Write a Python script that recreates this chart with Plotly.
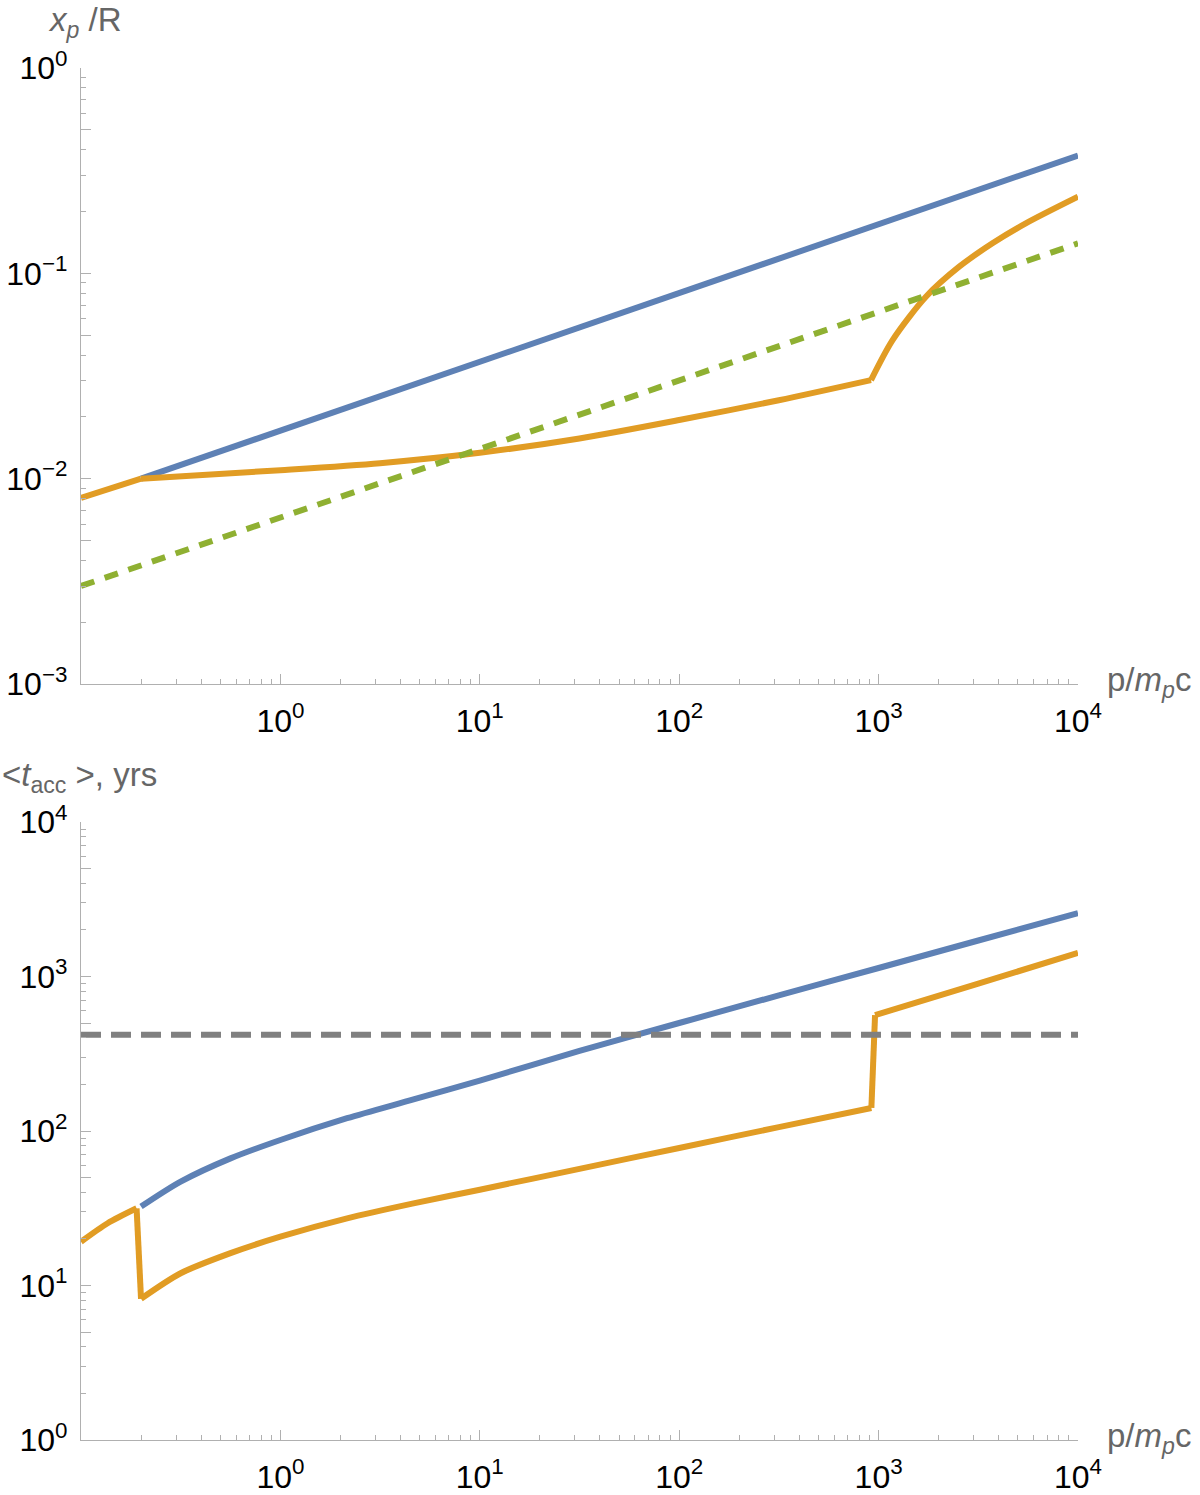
import plotly.graph_objects as go

# ---------------- data ----------------
# top panel: x_p / R versus p / m_p c
p_blue_top = [0.2, 10000]
xp_blue = [0.0100, 0.375]

p_orange_top = [0.1, 0.2, 1, 3.16, 10, 31.6, 100, 316, 916, 1175, 1727, 2536, 3724, 5470, 10000]
xp_orange = [0.00805, 0.0100, 0.0110, 0.0119, 0.01337, 0.0157, 0.0193, 0.0241, 0.0302,
             0.0473, 0.0769, 0.1077, 0.140, 0.175, 0.236]

p_green_top = [0.1, 10000]
xp_green = [0.0030, 0.140]

# bottom panel: <t_acc> (yrs) versus p / m_p c
p_blue_bot = [0.2, 0.316, 0.562, 1, 2.16, 4.65, 10, 31.6, 100, 316, 1000, 3162, 10000]
t_blue = [32.4, 47.0, 66.5, 87.5, 121, 160, 212, 330, 500, 755, 1135, 1710, 2570]

p_orange_bot = [0.1, 0.136, 0.19, 0.2, 0.316, 0.562, 1, 2.16, 4.65, 10, 31.6, 100, 316,
                920, 960, 3162, 10000]
t_orange = [19.2, 25.3, 31.6, 8.2, 12.0, 16.2, 20.7, 27.2, 34.0, 41.7, 56.9, 77.6, 106,
            141, 563, 900, 1420]

p_gray_bot = [0.1, 10000]
t_gray = [420, 420]

x_tick_vals = [1, 10, 100, 1000, 10000]
x_tick_text = ["10<sup>0</sup>", "10<sup>1</sup>", "10<sup>2</sup>", "10<sup>3</sup>", "10<sup>4</sup>"]

y_top_tick_vals = [0.001, 0.005, 0.01, 0.05, 0.1, 0.5, 1]
y_top_tick_text = ["10<sup>−3</sup>", "", "10<sup>−2</sup>", "", "10<sup>−1</sup>", "", "10<sup>0</sup>"]

y_bot_tick_vals = [1, 5, 10, 50, 100, 500, 1000, 5000, 10000]
y_bot_tick_text = ["10<sup>0</sup>", "", "10<sup>1</sup>", "", "10<sup>2</sup>", "",
                   "10<sup>3</sup>", "", "10<sup>4</sup>"]

# ---------------- styling ----------------
W, H = 1200, 1495
BLUE = "#5E81B5"
ORANGE = "#E19C24"
GREEN = "#8FB032"
GRAY = "#808080"
AXIS = "#B0B0B0"
LABEL = "#666666"
FONT = "Liberation Sans, Arial, sans-serif"
LW = 6


def px_x(v):
    return v / W


def px_y(v):
    return 1 - v / H


minor_x = [m * 10 ** e for e in range(-1, 4) for m in range(2, 10)]
minor_y_top = [m * 10 ** e for e in range(-3, 0) for m in (2, 3, 4, 6, 7, 8, 9)]
minor_y_bot = [m * 10 ** e for e in range(0, 4) for m in (2, 3, 4, 6, 7, 8, 9)]

fig = go.Figure()


def add_line(xs, ys, color, axes, dash=None, shape="linear"):
    ln = dict(color=color, width=LW, shape=shape)
    if dash:
        ln["dash"] = dash
    if shape == "spline":
        ln["smoothing"] = 0.8
    fig.add_trace(go.Scatter(x=xs, y=ys, mode="lines", line=ln,
                             xaxis=axes[0], yaxis=axes[1], hoverinfo="skip"))


TOP = ("x", "y")
BOT = ("x2", "y2")

# top panel
add_line(p_blue_top, xp_blue, BLUE, TOP)
add_line(p_orange_top[:2], xp_orange[:2], ORANGE, TOP)
add_line(p_orange_top[1:9], xp_orange[1:9], ORANGE, TOP, shape="spline")
add_line(p_orange_top[8:], xp_orange[8:], ORANGE, TOP, shape="spline")
add_line(p_green_top, xp_green, GREEN, TOP, dash="14px,11px")

# bottom panel
add_line(p_blue_bot, t_blue, BLUE, BOT, shape="spline")
add_line(p_orange_bot[:3], t_orange[:3], ORANGE, BOT, shape="spline")
add_line(p_orange_bot[2:4], t_orange[2:4], ORANGE, BOT)
add_line(p_orange_bot[3:14], t_orange[3:14], ORANGE, BOT, shape="spline")
add_line(p_orange_bot[13:15], t_orange[13:15], ORANGE, BOT)
add_line(p_orange_bot[14:], t_orange[14:], ORANGE, BOT, shape="spline")
add_line(p_gray_bot, t_gray, GRAY, BOT, dash="20px,10px")

x_dom = [px_x(81), px_x(1078)]
TICKFONT = dict(family=FONT, size=32, color="black")


def xaxis_cfg(anchor):
    return dict(type="log", range=[-1, 4], domain=x_dom, anchor=anchor,
                showline=True, linecolor=AXIS, linewidth=1.3, mirror=False,
                showgrid=False, zeroline=False,
                tickmode="array", tickvals=x_tick_vals, ticktext=x_tick_text,
                ticks="inside", ticklen=10, tickwidth=1.2, tickcolor=AXIS,
                tickfont=TICKFONT, ticklabelstandoff=8,
                minor=dict(tickmode="array", tickvals=minor_x, ticks="inside",
                           ticklen=5, tickwidth=1.2, tickcolor=AXIS, showgrid=False))


def yaxis_cfg(anchor, rng, dom, tv, tt, minor_vals):
    return dict(type="log", range=rng, domain=dom, anchor=anchor,
                showline=True, linecolor=AXIS, linewidth=1.3, mirror=False,
                showgrid=False, zeroline=False,
                tickmode="array", tickvals=tv, ticktext=tt,
                ticks="inside", ticklen=10, tickwidth=1.2, tickcolor=AXIS,
                tickfont=TICKFONT, ticklabelstandoff=6,
                minor=dict(tickmode="array", tickvals=minor_vals, ticks="inside",
                           ticklen=5, tickwidth=1.2, tickcolor=AXIS, showgrid=False))


fig.update_layout(
    width=W, height=H,
    margin=dict(l=0, r=0, t=0, b=0, autoexpand=False),
    paper_bgcolor="white", plot_bgcolor="white",
    showlegend=False,
    xaxis=xaxis_cfg("y"),
    yaxis=yaxis_cfg("x", [-3, 0], [px_y(684), px_y(68)], y_top_tick_vals, y_top_tick_text, minor_y_top),
    xaxis2=xaxis_cfg("y2"),
    yaxis2=yaxis_cfg("x2", [0, 4], [px_y(1440), px_y(822)], y_bot_tick_vals, y_bot_tick_text, minor_y_bot),
)

title_font = dict(family=FONT, size=33, color=LABEL)
annots = [
    dict(text="<i>x</i><sub><i>p</i></sub> /R", x=px_x(46), y=px_y(22)),
    dict(text="p/<i>m</i><sub><i>p</i></sub>c", x=px_x(1105), y=px_y(682)),
    dict(text="&lt;<i>t</i><sub>acc</sub> &gt;, yrs", x=px_x(0), y=px_y(777)),
    dict(text="p/<i>m</i><sub><i>p</i></sub>c", x=px_x(1105), y=px_y(1438)),
]
for a in annots:
    fig.add_annotation(xref="paper", yref="paper", xanchor="left", yanchor="middle",
                       showarrow=False, font=title_font, **a)

fig.write_html("out.html")
